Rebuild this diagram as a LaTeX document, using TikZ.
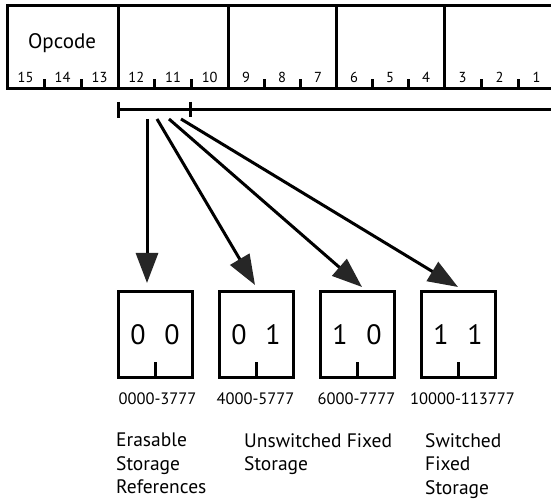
\documentclass[tikz,border=0pt]{standalone}
\usepackage{fontspec}
\setmainfont{PT Sans}
\usetikzlibrary{arrows.meta,calc}
\begin{document}
\begin{tikzpicture}[x=1pt,y=-1pt,
  field/.style={draw,line width=3pt,minimum height=83pt,inner sep=0pt,outer sep=0pt},
  bitno/.style={font=\fontsize{14.5}{14.5}\selectfont,inner sep=0pt},
  tickmark/.style={line width=3pt},
  cell/.style={draw,line width=3pt,minimum width=74pt,minimum height=85pt,inner sep=0pt,outer sep=0pt},
  bitval/.style={font=\fontsize{28}{28}\selectfont,inner sep=0pt},
  rangelabel/.style={font=\fontsize{16.5}{16.5}\selectfont,inner sep=0pt},
  caption/.style={font=\fontsize{19.5}{23.5}\selectfont,align=left,inner sep=0pt,anchor=north west},
  pointer/.style={line width=3pt,-{Triangle[length=30pt,width=22pt,color=black!85]}}]
\clip (0,0) rectangle (551,502);
\fill[white] (0,0) rectangle (551,502);

% 16-bit instruction word, split into five fields
\foreach \i/\l/\r/\a/\b/\c in {1/7/118/15/14/13, 2/118/228/12/11/10,
    3/228/336/9/8/7, 4/336/444/6/5/4, 5/444/555/3/2/1} {
  \node[field,minimum width={\r-\l}] (f\i) at ({(\l+\r)/2},47.5) {};
  \draw[tickmark] ($(f\i.south west)!1/3!(f\i.south east)$) -- ++(0,-10);
  \draw[tickmark] ($(f\i.south west)!2/3!(f\i.south east)$) -- ++(0,-10);
  \node[bitno] (n\a) at ({\l+(\r-\l)/6},77.5) {\a};
  \node[bitno] (n\b) at ({\l+(\r-\l)/2},77.5) {\b};
  \node[bitno] (n\c) at ({\l+5*(\r-\l)/6},77.5) {\c};
}
\node[font=\fontsize{21}{21}\selectfont,inner sep=0pt] (opcode) at (62,43) {Opcode};

% bracket under the address bits
\coordinate (bl) at (118,110);
\coordinate (bm) at (190,110);
\coordinate (br) at (551,110);
\draw[line width=3pt] (bl) -- (br);
\draw[line width=3pt] (bl) ++(0,-8) -- ++(0,16);
\draw[line width=3pt] (bm) ++(0,-8) -- ++(0,15);
\draw[line width=1pt] (br) ++(0,-8) -- ++(0,15);

% bank selector cells
\foreach \k/\x/\p/\q in {1/155/0/0, 2/256/0/1, 3/357/1/0, 4/458/1/1} {
  \node[cell] (c\k) at (\x,334.5) {};
  \node[bitval] (c\k p) at ($(c\k.center)+(-17,0.5)$) {\p};
  \node[bitval] (c\k q) at ($(c\k.center)+(17,0.5)$) {\q};
  \draw[tickmark] (c\k.south) -- ++(0,-15);
}
\node[rangelabel] (r1) at (157.5,399) {0000-3777};
\node[rangelabel] (r2) at (255.5,399) {4000-5777};
\node[rangelabel] (r3) at (356.5,399) {6000-7777};
\node[rangelabel] (r4) at (462.5,399) {10000-113777};

% pointers from the bracket to the cells
\coordinate (s1) at (147,119);
\coordinate (s2) at (157,119);
\coordinate (s3) at (169,119);
\coordinate (s4) at (181,119);
\coordinate (t1) at (147,283);
\coordinate (t2) at (255,285);
\coordinate (t3) at (362,287);
\coordinate (t4) at (458,287);
\foreach \k in {1,...,4} \draw[pointer] (s\k) -- (t\k);

% storage descriptions
\node[caption] (d1) at (116,433) {Erasable\\Storage\\References};
\node[caption] (d2) at (244,433) {Unswitched Fixed\\Storage};
\node[caption] (d3) at (425,433) {Switched\\Fixed\\Storage};
\end{tikzpicture}
\end{document}
